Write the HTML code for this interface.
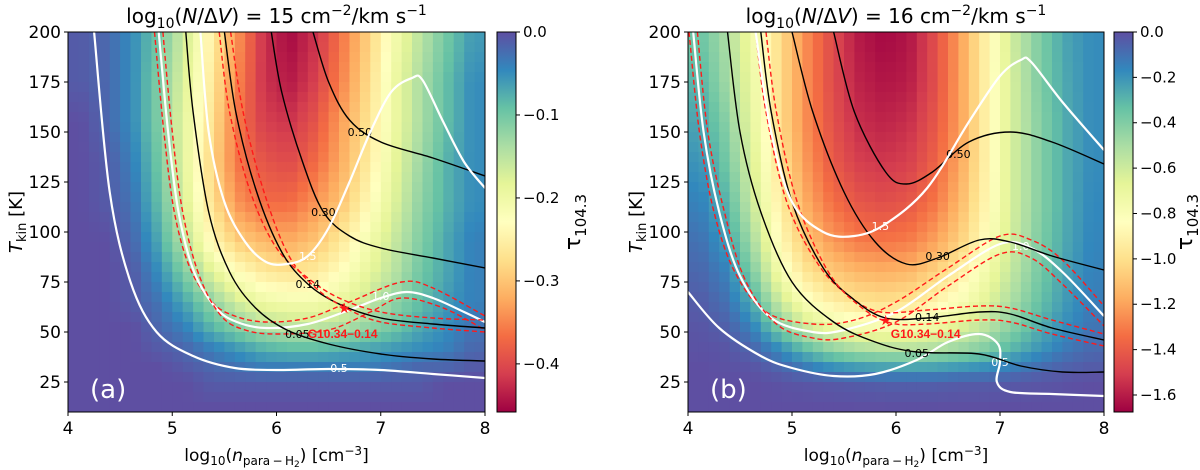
<!DOCTYPE html>
<html><head><meta charset="utf-8">
<style>
html,body{margin:0;padding:0;background:#fff;}
svg{display:block;font-family:"DejaVu Sans","Liberation Sans",sans-serif;}
</style></head>
<body>
<svg id="fig" width="1200" height="470" viewBox="0 0 1200 470" xmlns="http://www.w3.org/2000/svg">
<defs>
<linearGradient id="cbg" x1="0" y1="1" x2="0" y2="0">
<stop offset="0" stop-color="#9e0142"/><stop offset="0.1" stop-color="#d53e4f"/><stop offset="0.2" stop-color="#f46d43"/><stop offset="0.3" stop-color="#fdae61"/><stop offset="0.4" stop-color="#fee08b"/><stop offset="0.5" stop-color="#ffffbf"/><stop offset="0.6" stop-color="#e6f598"/><stop offset="0.7" stop-color="#abdda4"/><stop offset="0.8" stop-color="#66c2a5"/><stop offset="0.9" stop-color="#3288bd"/><stop offset="1" stop-color="#5e4fa2"/>
</linearGradient>
</defs>
</svg>
<script>
// ---------- data ----------
const xSamples = [4.125,4.375,4.625,4.875,5.125,5.375,5.625,5.875,6.125,6.375,6.625,6.875,7.125,7.375,7.625,7.875];
const tSamples = [195,175,155,135,115,95,80,65,52,42,33,25,12];
const tauA = [
[-0.01,-0.02,-0.05,-0.10,-0.17,-0.25,-0.34,-0.42,-0.45,-0.42,-0.36,-0.29,-0.21,-0.15,-0.10,-0.06],
[-0.01,-0.02,-0.05,-0.11,-0.18,-0.26,-0.35,-0.42,-0.44,-0.41,-0.35,-0.28,-0.20,-0.14,-0.09,-0.05],
[0,-0.02,-0.05,-0.11,-0.19,-0.27,-0.36,-0.41,-0.42,-0.39,-0.33,-0.27,-0.20,-0.14,-0.09,-0.05],
[0,-0.01,-0.04,-0.10,-0.19,-0.28,-0.36,-0.39,-0.40,-0.37,-0.32,-0.26,-0.19,-0.13,-0.08,-0.05],
[0,-0.01,-0.03,-0.09,-0.18,-0.27,-0.34,-0.37,-0.37,-0.34,-0.30,-0.24,-0.18,-0.12,-0.08,-0.05],
[0,0,-0.02,-0.07,-0.15,-0.24,-0.29,-0.31,-0.32,-0.30,-0.26,-0.21,-0.16,-0.11,-0.07,-0.04],
[0,0,-0.01,-0.05,-0.11,-0.18,-0.23,-0.26,-0.27,-0.26,-0.23,-0.19,-0.15,-0.10,-0.07,-0.04],
[0,0,-0.01,-0.03,-0.07,-0.12,-0.17,-0.20,-0.21,-0.21,-0.19,-0.16,-0.12,-0.09,-0.06,-0.04],
[0,0,0,-0.02,-0.04,-0.08,-0.11,-0.14,-0.15,-0.15,-0.14,-0.12,-0.10,-0.07,-0.05,-0.03],
[0,0,0,-0.01,-0.02,-0.04,-0.06,-0.08,-0.09,-0.09,-0.08,-0.07,-0.06,-0.05,-0.04,-0.02],
[0,0,0,0,-0.01,-0.02,-0.03,-0.04,-0.04,-0.04,-0.04,-0.04,-0.03,-0.02,-0.02,-0.01],
[0,0,0,0,0,-0.01,-0.01,-0.01,-0.01,-0.01,-0.01,-0.01,-0.01,-0.01,0,0],
[0,0,0,0,0,0,0,0,0,0,0,0,0,0,0,0]];
const tauB = [
[-0.35,-0.50,-0.75,-1.00,-1.25,-1.45,-1.60,-1.65,-1.62,-1.45,-1.20,-0.90,-0.60,-0.40,-0.25,-0.18],
[-0.30,-0.48,-0.72,-1.00,-1.25,-1.45,-1.58,-1.62,-1.60,-1.45,-1.20,-0.90,-0.62,-0.40,-0.26,-0.18],
[-0.25,-0.42,-0.70,-1.00,-1.25,-1.43,-1.55,-1.58,-1.55,-1.42,-1.20,-0.90,-0.62,-0.42,-0.27,-0.18],
[-0.20,-0.37,-0.65,-0.97,-1.22,-1.40,-1.50,-1.53,-1.50,-1.38,-1.18,-0.90,-0.62,-0.42,-0.27,-0.18],
[-0.15,-0.30,-0.60,-0.92,-1.17,-1.33,-1.42,-1.45,-1.42,-1.32,-1.13,-0.88,-0.62,-0.42,-0.27,-0.17],
[-0.10,-0.22,-0.50,-0.85,-1.08,-1.22,-1.30,-1.32,-1.30,-1.20,-1.05,-0.83,-0.60,-0.40,-0.26,-0.16],
[-0.07,-0.15,-0.40,-0.75,-0.97,-1.08,-1.14,-1.16,-1.14,-1.05,-0.92,-0.75,-0.56,-0.38,-0.24,-0.15],
[-0.04,-0.10,-0.27,-0.58,-0.80,-0.92,-0.98,-1.00,-0.98,-0.90,-0.80,-0.66,-0.50,-0.34,-0.22,-0.14],
[-0.02,-0.05,-0.15,-0.38,-0.58,-0.70,-0.76,-0.78,-0.76,-0.72,-0.64,-0.54,-0.41,-0.28,-0.18,-0.11],
[-0.01,-0.02,-0.07,-0.18,-0.33,-0.45,-0.52,-0.55,-0.55,-0.52,-0.47,-0.40,-0.30,-0.21,-0.13,-0.08],
[0,-0.01,-0.02,-0.07,-0.14,-0.20,-0.24,-0.26,-0.27,-0.26,-0.23,-0.20,-0.15,-0.10,-0.06,-0.04],
[0,0,0,-0.01,-0.02,-0.03,-0.04,-0.05,-0.05,-0.05,-0.04,-0.04,-0.03,-0.02,-0.01,0],
[0,0,0,0,0,0,0,0,0,0,0,0,0,0,0,0]];
const xTicks = [4,5,6,7,8];
const yTicks = [25,50,75,100,125,150,175,200];
const cbTicksA = [0,-0.1,-0.2,-0.3,-0.4];
const cbTicksB = [0,-0.2,-0.4,-0.6,-0.8,-1.0,-1.2,-1.4,-1.6];

const contoursA = [
 ["white","0.5",[6.6,32],[[4.25,200],[4.4,120],[4.6,75],[4.85,50],[5.2,38],[5.6,32],[6.0,31],[6.5,31.5],[7.0,31],[7.5,29],[8.0,27]]],
 ["dash","",null,[[4.83,200],[4.92,150],[5.02,110],[5.17,82],[5.38,65],[5.6,58],[5.9,55],[6.3,57],[6.7,65],[7.2,75],[7.5,72],[8.0,58]]],
 ["white","1.0",[7.0,68],[[4.87,200],[4.96,150],[5.06,110],[5.21,80],[5.42,62],[5.62,55],[5.9,52],[6.3,54],[6.7,61],[7.0,67],[7.25,70],[7.5,67],[7.8,60],[8.0,55]]],
 ["dash","",null,[[4.91,200],[5.0,150],[5.1,110],[5.26,78],[5.47,58],[5.7,51],[6.0,49],[6.5,51],[6.9,60],[7.2,67],[7.6,62],[8.0,51]]],
 ["black","0.05",[6.2,49],[[5.13,200],[5.2,160],[5.35,110],[5.55,80],[5.8,62],[6.1,51],[6.5,44],[7.0,39],[7.5,36.5],[8.0,35.5]]],
 ["dash","",null,[[5.45,200],[5.55,160],[5.75,120],[6.0,92],[6.3,77],[6.6,67],[7.0,60],[7.5,57],[8.0,56]]],
 ["black","0.14",[6.3,74],[[5.5,200],[5.61,160],[5.81,120],[6.05,90],[6.3,74],[6.6,64],[7.0,57],[7.5,54],[8.0,52]]],
 ["dash","",null,[[5.56,200],[5.68,160],[5.88,120],[6.12,88],[6.4,71],[6.7,61],[7.0,55],[7.5,52],[8.0,50]]],
 ["black","0.30",[6.45,110],[[5.95,200],[6.05,170],[6.25,135],[6.45,110],[6.7,98],[7.0,92],[7.5,87],[8.0,82]]],
 ["black","0.50",[6.8,150],[[6.35,200],[6.5,175],[6.7,156],[7.0,145],[7.5,137],[8.0,128]]],
 ["white","1.5",[6.3,88],[[5.27,200],[5.35,150],[5.5,115],[5.7,95],[5.9,85],[6.1,84],[6.3,88],[6.5,102],[6.7,125],[6.9,150],[7.1,170],[7.3,177],[7.4,176],[7.6,155],[7.8,135],[8.0,122]]]
];
const contoursB = [
 ["white","0.5",[7.0,35],[[4.0,70],[4.3,52],[4.7,38],[5.0,32],[5.4,28],[5.8,29],[6.2,36],[6.5,45],[6.8,49],[6.98,44],[7.0,35],[6.97,25],[7.1,20],[7.5,19],[8.0,18]]],
 ["dash","",null,[[4.01,200],[4.11,150],[4.25,110],[4.45,80],[4.75,60],[5.2,54],[5.6,56],[6.0,65],[6.5,82],[7.0,98],[7.3,96],[7.6,86],[8.0,63]]],
 ["white","1.0",[7.2,93],[[4.05,200],[4.15,150],[4.3,110],[4.5,78],[4.8,57],[5.2,50],[5.5,51],[6.0,60],[6.5,78],[7.0,94],[7.3,92],[7.6,80],[8.0,58]]],
 ["dash","",null,[[4.09,200],[4.19,150],[4.35,110],[4.55,76],[4.85,54],[5.2,47],[5.5,47],[6.0,55],[6.5,73],[7.0,89],[7.3,87],[7.6,74],[8.0,53]]],
 ["black","0.05",[6.2,39.5],[[4.38,200],[4.5,150],[4.7,110],[5.0,75],[5.4,55],[5.8,45],[6.2,40],[6.8,39],[7.2,33],[7.6,30],[8.0,30]]],
 ["dash","",null,[[4.65,200],[4.75,160],[4.95,115],[5.25,84],[5.55,68],[5.85,60],[6.3,61],[6.8,63],[7.1,62],[7.5,56],[8.0,49]]],
 ["black","0.14",[6.3,57.5],[[4.7,200],[4.8,160],[5.0,115],[5.3,82],[5.6,66],[5.9,57],[6.3,57],[6.8,60],[7.1,59],[7.5,52],[8.0,46]]],
 ["dash","",null,[[4.75,200],[4.85,160],[5.05,115],[5.35,80],[5.65,63],[5.95,54.5],[6.3,54],[6.8,56],[7.1,55],[7.5,49],[8.0,43]]],
 ["black","0.30",[6.4,88],[[5.0,200],[5.2,160],[5.5,120],[5.8,95],[6.1,84],[6.4,87],[6.8,96],[7.1,95],[7.5,88],[8.0,81]]],
 ["black","0.50",[6.6,139],[[5.4,200],[5.6,160],[5.9,130],[6.1,124],[6.35,130],[6.7,145],[7.1,150],[7.5,145],[8.0,134]]],
 ["white","1.5",[5.85,103],[[4.65,200],[4.8,150],[5.0,115],[5.3,100],[5.6,98],[5.9,104],[6.3,122],[6.7,155],[7.0,178],[7.2,186],[7.3,185],[7.6,165],[8.0,141]]]
];

// ---------- drawing ----------
const NS="http://www.w3.org/2000/svg";
const svg=document.getElementById('fig');
const stops=[[158,1,66],[213,62,79],[244,109,67],[253,174,97],[254,224,139],[255,255,191],[230,245,152],[171,221,164],[102,194,165],[50,136,189],[94,79,162]];
function spectral(f){f=Math.max(0,Math.min(1,f));const s=f*10;const i=Math.min(9,Math.floor(s));const t=s-i;const a=stops[i],b=stops[i+1];
 return 'rgb('+a.map((v,k)=>Math.round(v+(b[k]-v)*t)).join(',')+')';}
function el(tag,attrs,parent){const e=document.createElementNS(NS,tag);for(const k in attrs)e.setAttribute(k,attrs[k]);(parent||svg).appendChild(e);return e;}
function smoothPath(pts){let d='M'+pts[0][0].toFixed(1)+','+pts[0][1].toFixed(1);
 for(let i=0;i<pts.length-1;i++){const p0=pts[Math.max(0,i-1)],p1=pts[i],p2=pts[i+1],p3=pts[Math.min(pts.length-1,i+2)];
  const c1=[p1[0]+(p2[0]-p0[0])/6,p1[1]+(p2[1]-p0[1])/6],c2=[p2[0]-(p3[0]-p1[0])/6,p2[1]-(p3[1]-p1[1])/6];
  d+=' C'+c1[0].toFixed(1)+','+c1[1].toFixed(1)+' '+c2[0].toFixed(1)+','+c2[1].toFixed(1)+' '+p2[0].toFixed(1)+','+p2[1].toFixed(1);}
 return d;}
function idx(arr,v,desc){ // fractional index into sample array
 const n=arr.length;
 if(desc){ if(v>=arr[0])return 0; if(v<=arr[n-1])return n-1;
  for(let i=0;i<n-1;i++){if(v<=arr[i]&&v>=arr[i+1])return i+(arr[i]-v)/(arr[i]-arr[i+1]);} }
 else { if(v<=arr[0])return 0; if(v>=arr[n-1])return n-1;
  for(let i=0;i<n-1;i++){if(v>=arr[i]&&v<=arr[i+1])return i+(v-arr[i])/(arr[i+1]-arr[i]);} }
 return 0;}
function sample(grid,x,t){
 const fi=idx(tSamples,t,true),fj=idx(xSamples,x,false);
 const i0=Math.floor(fi),j0=Math.floor(fj),i1=Math.min(i0+1,tSamples.length-1),j1=Math.min(j0+1,xSamples.length-1);
 const a=fi-i0,b=fj-j0;
 return grid[i0][j0]*(1-a)*(1-b)+grid[i0][j1]*(1-a)*b+grid[i1][j0]*a*(1-b)+grid[i1][j1]*a*b;}

function panel(cfg){
 const L=cfg.x0,R=cfg.x1,T0=32,B=412;
 const xs=v=>L+(v-4)/4*(R-L);
 const ys=t=>T0+(200-t)/190*(B-T0);
 const g=el('g',{});
 
 
 const clip=el('clipPath',{id:'clip'+cfg.id},g);
 el('rect',{x:L,y:T0,width:R-L,height:B-T0},clip);
 const hm=el('g',{'clip-path':'url(#clip'+cfg.id+')'},g);
 
 
 const nx=40,nt=38;
 for(let r=0;r<nt;r++){for(let c=0;c<nx;c++){
  const xc=4+(c+0.5)*0.1,tc=200-(r+0.5)*5;
  const v=sample(cfg.tau,xc,tc);
  const xa=xs(4+c*0.1),xb=xs(4+(c+1)*0.1),ya=ys(200-r*5),yb=ys(200-(r+1)*5);
  const cell=el('rect',{x:xa.toFixed(1),y:ya.toFixed(1),width:(xb-xa+0.6).toFixed(1),height:(yb-ya+0.6).toFixed(1),fill:spectral((v-cfg.min)/(0-cfg.min))},hm);
  
  
 }}
 cfg.contours.forEach(c=>{
  const kind=c[0];const pts=c[3].map(p=>[xs(p[0]),ys(p[1])]);
  const stroke=kind==='white'?'#fff':kind==='black'?'#000':'#ff1a1a';
  const p=el('path',{d:smoothPath(pts),fill:'none',stroke:stroke,'stroke-width':kind==='white'?2.2:1.4,'stroke-dasharray':kind==='dash'?'5,3':'none'},hm);
  
  
  if(c[1]){const lx=xs(c[2][0]),ly=ys(c[2][1]);
   const t=el('text',{x:lx,y:ly+4,'font-size':11,'text-anchor':'middle',fill:kind==='white'?'#fff':'#000'},hm);
   t.textContent=c[1];
   
   }
 });
 const sx=xs(cfg.star[0]),sy=ys(cfg.star[1]);
 const st=el('text',{x:sx,y:sy+5,'font-size':14,'text-anchor':'middle',fill:'#ff1a1a'},g);st.textContent='★';
 
 
 const sl=el('text',{x:xs(cfg.srcLabel[0]),y:ys(cfg.srcLabel[1]),'font-size':12,'font-weight':'bold',fill:'#ff1a1a','font-family':'Liberation Sans, sans-serif'},g);sl.textContent='G10.34\u22120.14';
 
 
 const pl=el('text',{x:L+22,y:398,'font-size':26,fill:'#fff'},g);pl.textContent=cfg.letter;
 
 
 el('rect',{x:L,y:T0,width:R-L,height:B-T0,fill:'none',stroke:'#000','stroke-width':1},g);
 xTicks.forEach(v=>{const x=xs(v);el('line',{x1:x,y1:B,x2:x,y2:B+4,stroke:'#000'},g);
  const t=el('text',{x:x,y:B+22,'font-size':17,'text-anchor':'middle'},g);t.textContent=v;
  
  });
 yTicks.forEach(v=>{const y=ys(v);el('line',{x1:L-4,y1:y,x2:L,y2:y,stroke:'#000'},g);
  const t=el('text',{x:L-7,y:y+6,'font-size':17,'text-anchor':'end'},g);t.textContent=v;
  
  });
 const xl=el('text',{x:(L+R)/2,y:461,'font-size':17,'text-anchor':'middle'},g);
 xl.innerHTML='log<tspan font-size="12" dy="4">10</tspan><tspan dy="-4">(</tspan><tspan font-style="italic">n</tspan><tspan font-size="12" dy="4">para\u2009\u2212\u2009H</tspan><tspan font-size="9" dy="2">2</tspan><tspan dy="-6">)  [cm</tspan><tspan font-size="12" dy="-6">\u22123</tspan><tspan dy="6">]</tspan>';
 
 
 const yl=el('text',{transform:'translate('+(L-46)+',222) rotate(-90)','font-size':18,'text-anchor':'middle'},g);
 yl.innerHTML='<tspan font-style="italic">T</tspan><tspan font-size="13" dy="4">kin</tspan><tspan dy="-4"> [K]</tspan>';
 
 
 const ti=el('text',{x:(L+R)/2,y:23,'font-size':20,'text-anchor':'middle'},g);
 ti.innerHTML='log<tspan font-size="14" dy="5">10</tspan><tspan dy="-5">(</tspan><tspan font-style="italic">N</tspan>/Δ<tspan font-style="italic">V</tspan>) = '+cfg.col+' cm<tspan font-size="14" dy="-8">\u22122</tspan><tspan dy="8">/km s</tspan><tspan font-size="14" dy="-8">\u22121</tspan>';
 
 
 const cb=el('rect',{x:cfg.cb,y:T0,width:19,height:B-T0,fill:'url(#cbg)',stroke:'#000','stroke-width':1},g);
 
 
 cfg.cbTicks.forEach(v=>{const y=T0+(v/cfg.min)*(B-T0);el('line',{x1:cfg.cb+19,y1:y,x2:cfg.cb+23,y2:y,stroke:'#000'},g);
  const t=el('text',{x:cfg.cb+26,y:y+5,'font-size':15},g);t.textContent=v===0?'0.0':'\u2212'+Math.abs(v).toFixed(1);
  
  });
 const cl=el('text',{transform:'translate('+cfg.cbl+',222) rotate(-90)','font-size':22,'text-anchor':'middle'},g);
 cl.innerHTML='τ<tspan font-size="15" dy="6">104.3</tspan>';
 
 
}
panel({id:'a',name:'panel-a',x0:68,x1:485,tau:tauA,min:-0.458,contours:contoursA,star:[6.65,62],srcLabel:[6.3,47],letter:'(a)',col:'15',cb:497,cbTicks:cbTicksA,cbl:580});
panel({id:'b',name:'panel-b',x0:688,x1:1104,tau:tauB,min:-1.675,contours:contoursB,star:[5.9,56],srcLabel:[5.95,47],letter:'(b)',col:'16',cb:1114,cbTicks:cbTicksB,cbl:1192});
</script>
</body></html>
